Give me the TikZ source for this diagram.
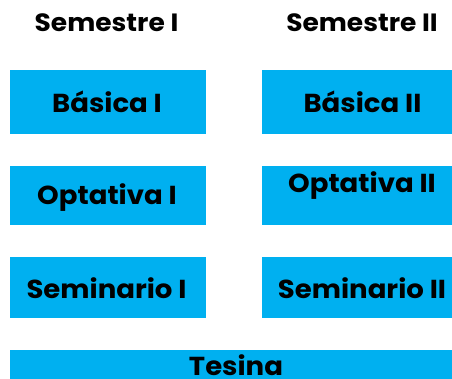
\documentclass[tikz,border=0pt]{standalone}
\usepackage{fontspec}
\setmainfont{Poppins}[BoldFont={* Bold},BoldFeatures={FakeStretch=1.06}]
\definecolor{boxcyan}{HTML}{00B0F0}
\begin{document}
\begin{tikzpicture}[x=1pt,y=-1pt,
  box/.style={fill=boxcyan,draw=none,inner sep=0pt,anchor=north west},
  lbl/.style={font=\bfseries\fontsize{26}{30}\selectfont,text=black,anchor=base,inner sep=0pt},
  hdr/.style={font=\bfseries\fontsize{25}{30}\selectfont,text=black,anchor=base,inner sep=0pt}]
\useasboundingbox (0,0) rectangle (452,379);
\fill[white] (0,0) rectangle (452,379);
\node[box,minimum width=196pt,minimum height=64pt] (b1) at (10,70) {};
\node[box,minimum width=190pt,minimum height=64pt] (b2) at (262,70) {};
\node[box,minimum width=196pt,minimum height=59pt] (o1) at (10,166) {};
\node[box,minimum width=190pt,minimum height=59pt] (o2) at (262,166) {};
\node[box,minimum width=196pt,minimum height=61pt] (s1) at (10,257) {};
\node[box,minimum width=190pt,minimum height=61pt] (s2) at (262,257) {};
\node[box,minimum width=442pt,minimum height=29pt] (t) at (10,350) {};
\node[hdr] (h1) at (106.5,31.5) {Semestre I};
\node[hdr] (h2) at (362,31.5) {Semestre II};
\node[lbl] (lb1) at (107,112.7) {Básica I};
\node[lbl] (lb2) at (362.5,112.7) {Básica II};
\node[lbl] (lo1) at (107,205) {Optativa I};
\node[lbl] (lo2) at (362,192.7) {Optativa II};
\node[lbl] (ls1) at (106.5,298.3) {Seminario I};
\node[lbl] (ls2) at (362,298.3) {Seminario II};
\node[lbl] (lt) at (236,375) {Tesina};
\end{tikzpicture}
\end{document}
